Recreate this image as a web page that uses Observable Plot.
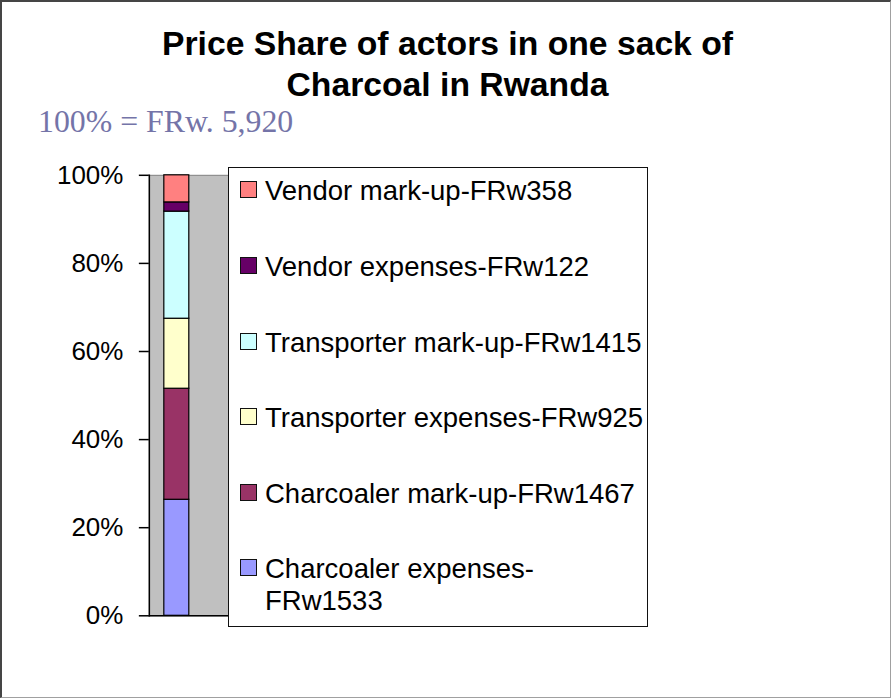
<!DOCTYPE html>
<html>
<head>
<meta charset="utf-8">
<script src="https://cdn.jsdelivr.net/npm/d3@7"></script>
<script src="https://cdn.jsdelivr.net/npm/@observablehq/plot@0.6"></script>
<style>
  html, body { margin: 0; padding: 0; background: #fff; }
  #wrap {
    position: relative; width: 891px; height: 698px; box-sizing: border-box;
    border-left: 2px solid #454545; border-top: 2px solid #454545;
    border-right: 1px solid #a0a0a0; border-bottom: 1px solid #a0a0a0;
    overflow: hidden; font-family: "Liberation Sans", Arial, sans-serif;
  }
  #chart { position: absolute; left: -2px; top: -2px; }
  .title { position: absolute; left: 0; width: 891px; text-align: center; font-weight: bold;
           font-size: 33.7px; line-height: 1; color: #000; white-space: nowrap; }
  .sub { position: absolute; left: 36px; top: 104px; font-family: "Liberation Serif", "Times New Roman", serif;
         font-size: 31.8px; line-height: 1; color: #7474a8; white-space: nowrap; }
  #legend { position: absolute; left: 226px; top: 165px; width: 420px; height: 460px; box-sizing: border-box;
            border: 1.5px solid #111; background: #fff; }
  .item { position: absolute; left: 0; height: 30px; }
  .sw { position: absolute; left: 11px; top: 6px; width: 17px; height: 17px; box-sizing: border-box; border: 1.5px solid #111; }
  .lab { position: absolute; left: 36px; top: 0; font-size: 27.5px; line-height: 32px; white-space: pre; color: #000; }
</style>
</head>
<body>
<div id="wrap">
  <div id="chart"></div>
  <div class="title" style="top:25px">Price Share of actors in one sack of</div>
  <div class="title" style="top:66px">Charcoal in Rwanda</div>
  <div class="sub">100% = FRw. 5,920</div>
  <div id="legend"></div>
</div>
<script>
// Data (bottom of stack to top)
const country = "Rwanda";
const categories = ["Charcoaler expenses", "Charcoaler mark-up", "Transporter expenses", "Transporter mark-up", "Vendor expenses", "Vendor mark-up"];
const values = [1533, 1467, 925, 1415, 122, 358];
const colors = ["#9999FF", "#993366", "#FFFFCC", "#CCFFFF", "#660066", "#FF8080"];
const legendLabels = ["Charcoaler expenses-\nFRw1533", "Charcoaler mark-up-FRw1467", "Transporter expenses-FRw925", "Transporter mark-up-FRw1415", "Vendor expenses-FRw122", "Vendor mark-up-FRw358"];
const yTicks = [0, 0.2, 0.4, 0.6, 0.8, 1];
const yTickLabels = ["0%", "20%", "40%", "60%", "80%", "100%"];

const rows = categories.map((c, i) => ({country, category: c, value: values[i]}));

const plot = Plot.plot({
  width: 891,
  height: 698,
  marginTop: 175,
  marginBottom: 698 - 616,
  marginLeft: 149,
  marginRight: 891 - 232,
  style: {fontFamily: '"Liberation Sans", Arial, sans-serif', fontSize: "26px", color: "#000", background: "transparent"},
  x: {domain: [country], axis: null, paddingInner: 0, paddingOuter: 1.16, align: 0.26},
  y: {domain: [0, 1], axis: null},
  color: {domain: categories, range: colors},
  marks: [
    Plot.frame({fill: "#C0C0C0", stroke: "#808080"}),
    Plot.barY(rows, Plot.stackY({x: "country", y: "value", fill: "category", offset: "normalize", stroke: "#000", strokeWidth: 1.2})),
    Plot.axisY({ticks: yTicks, tickFormat: d => yTickLabels[yTicks.indexOf(d)], tickSize: 10, tickPadding: 16, strokeWidth: 1.5, label: null}),
    Plot.frame({anchor: "left", stroke: "#000", strokeWidth: 1.5}),
    Plot.frame({anchor: "bottom", stroke: "#000", strokeWidth: 1.5})
  ]
});
document.getElementById("chart").appendChild(plot);

// Legend (top to bottom = reverse of stack order)
const legend = document.getElementById("legend");
const centers = [22, 98, 174, 249, 325, 400];
const order = categories.map((c, i) => i).reverse();
order.forEach((idx, k) => {
  const item = document.createElement("div");
  item.className = "item";
  item.style.top = (centers[k] - 15) + "px";
  const sw = document.createElement("div");
  sw.className = "sw";
  sw.style.background = colors[idx];
  const lab = document.createElement("div");
  lab.className = "lab";
  lab.textContent = legendLabels[idx];
  item.appendChild(sw);
  item.appendChild(lab);
  legend.appendChild(item);
});
</script>
</body>
</html>
